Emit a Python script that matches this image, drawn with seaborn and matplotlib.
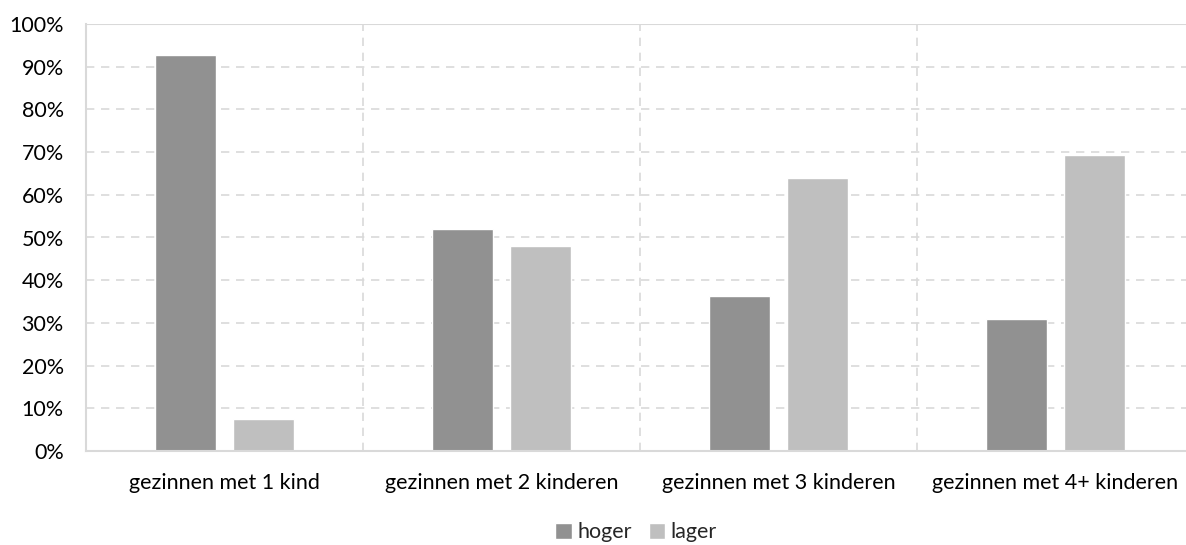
import pandas as pd
import seaborn as sns
import matplotlib.pyplot as plt
from matplotlib.ticker import PercentFormatter

categorieen = ['gezinnen met 1 kind', 'gezinnen met 2 kinderen',
               'gezinnen met 3 kinderen', 'gezinnen met 4+ kinderen']
hoger = [92.8, 52.0, 36.2, 30.8]
lager = [7.4, 48.0, 63.9, 69.3]
reeksen = ['hoger', 'lager']

df = pd.DataFrame({
    'categorie': categorieen * 2,
    'waarde': hoger + lager,
    'reeks': ['hoger'] * 4 + ['lager'] * 4,
})

sns.set_style('white')
plt.rcParams['font.family'] = ['Lato', 'DejaVu Sans']

fig = plt.figure(figsize=(11.86, 5.45), dpi=100)
ax = fig.add_axes([86 / 1186, 1 - 451 / 545, 1 - 86 / 1186, 427 / 545])

sns.barplot(data=df, x='categorie', y='waarde', hue='reeks', hue_order=reeksen,
            palette={'hoger': '#919191', 'lager': '#bfbfbf'},
            width=0.57, gap=0.228, ax=ax, legend=True)

ax.set_ylim(0, 100)
ax.set_xlim(-0.5, 3.5 - 8 / 277)
ax.set_yticks(range(0, 101, 10))
ax.yaxis.set_major_formatter(PercentFormatter(decimals=0))
ax.set_xlabel('')
ax.set_ylabel('')

for y in range(10, 100, 10):
    ax.axhline(y, color='#d9d9d9', lw=1.2, ls=(0, (5, 4)), zorder=0)
ax.axhline(100, color='#d9d9d9', lw=1.5, zorder=0)
for x in [0.5, 1.5, 2.5]:
    ax.axvline(x, color='#d9d9d9', lw=1.2, ls=(0, (5, 4)), zorder=0)

for s in ['top', 'right']:
    ax.spines[s].set_visible(False)
for s in ['left', 'bottom']:
    ax.spines[s].set_color('#d9d9d9')
    ax.spines[s].set_linewidth(1.5)

ax.tick_params(axis='both', length=0, labelsize=15.5, colors='#000000')
ax.tick_params(axis='x', pad=16)
ax.tick_params(axis='y', pad=16)

ax.legend(loc='center', bbox_to_anchor=(0.5, -0.19), ncol=2, frameon=False,
          fontsize=15.5, handlelength=0.75, handleheight=0.75, handletextpad=0.25,
          columnspacing=0.8, borderpad=0.2)

fig.savefig('out.png', dpi=100)
